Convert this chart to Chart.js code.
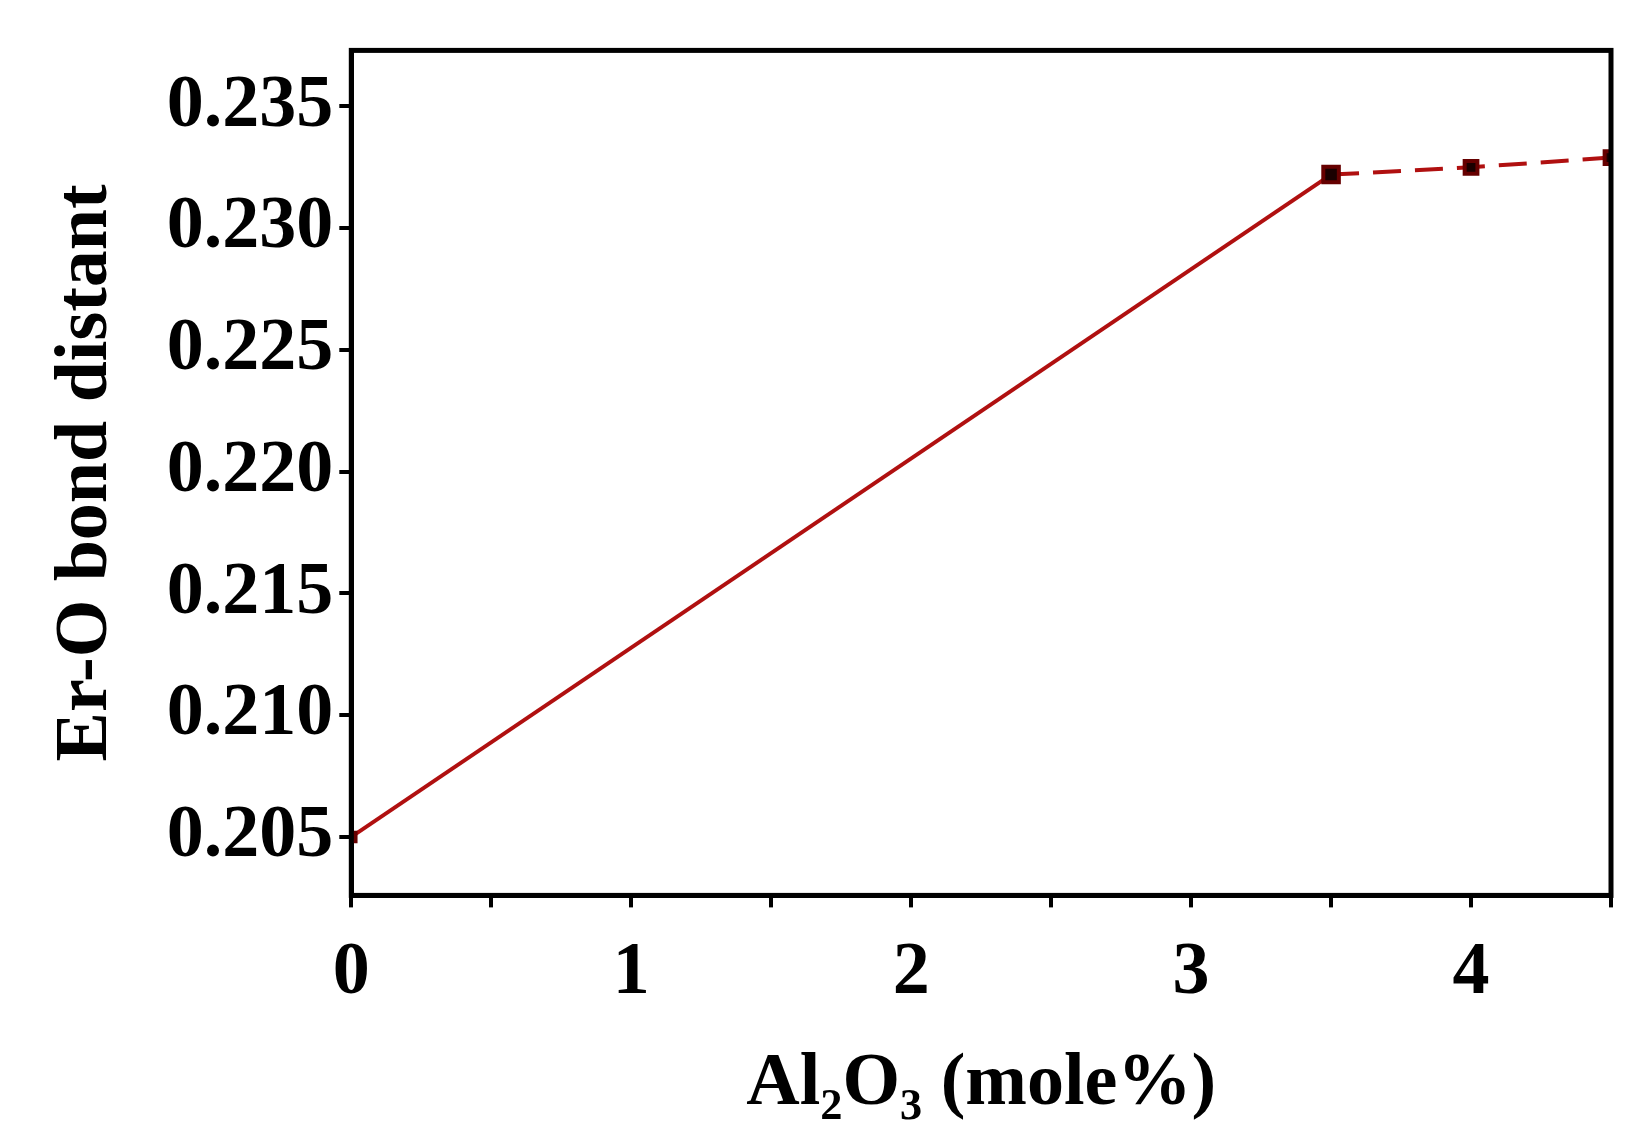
<!DOCTYPE html>
<html><head><meta charset="utf-8">
<script src="https://cdn.jsdelivr.net/npm/chart.js@4/dist/chart.umd.min.js"></script>
<style>html,body{margin:0;background:#fff}#w{width:1637px;height:1133px}</style>
</head><body><div id="w"><canvas id="c"></canvas></div>
<script>
const xValues=[0,3.5,4,4.5];
const yValues=[0.205,0.2322,0.2325,0.2329];
const xTickLabels=['0','1','2','3','4'];
const yTickLabels=['0.205','0.210','0.215','0.220','0.225','0.230','0.235'];
const frame={id:'frame',afterDraw(c){const a=c.chartArea,x=c.ctx;x.save();x.lineWidth=5;x.strokeStyle='#000';x.strokeRect(a.left,a.top,a.right-a.left,a.bottom-a.top);x.restore();}};
const font={family:'Liberation Serif',weight:'bold',size:74};
new Chart(document.getElementById('c'),{type:'line',
data:{datasets:[{data:xValues.map((x,i)=>({x,y:yValues[i]})),borderColor:'#b01010',borderWidth:4,
pointStyle:'rect',pointRadius:[6,11,9,9],pointBackgroundColor:'#1a0000',pointBorderColor:'#600',
segment:{borderDash:ctx=>ctx.p0DataIndex>=1?[28,14]:undefined}}]},
options:{responsive:true,maintainAspectRatio:false,animation:false,
layout:{padding:{top:2,right:26,left:38,bottom:0}},
plugins:{legend:{display:false},tooltip:{enabled:false}},
scales:{
x:{type:'linear',min:0,max:4.5,border:{width:5,color:'#000'},grid:{drawOnChartArea:false,color:'#000',lineWidth:4,tickLength:12},
ticks:{stepSize:0.5,autoSkip:false,maxRotation:0,color:'#000',font,padding:22,callback:v=>Number.isInteger(v)?xTickLabels[v]:''},
title:{display:true,text:'Al₂O₃ (mole%)',color:'#000',font:{family:'Liberation Serif',weight:'bold',size:74},padding:{top:0}}},
y:{type:'linear',min:0.2026,max:0.2373,border:{width:5,color:'#000'},grid:{drawOnChartArea:false,color:'#000',lineWidth:4,tickLength:12},
afterBuildTicks:s=>{const t=[];for(let i=0;i<=14;i++)t.push({value:0.2025+i*0.0025});s.ticks=t.filter(k=>k.value>=0.2026&&k.value<=0.2373);},
ticks:{color:'#000',font,padding:6,callback:v=>{const k=Math.round((v-0.205)/0.005*2);return k%2===0&&k>=0?yTickLabels[k/2]:'';}},
title:{display:true,text:'Er-O bond distant',color:'#000',font:{family:'Liberation Serif',weight:'bold',size:74},padding:{bottom:30}}}}},
plugins:[frame]});
</script></body></html>
